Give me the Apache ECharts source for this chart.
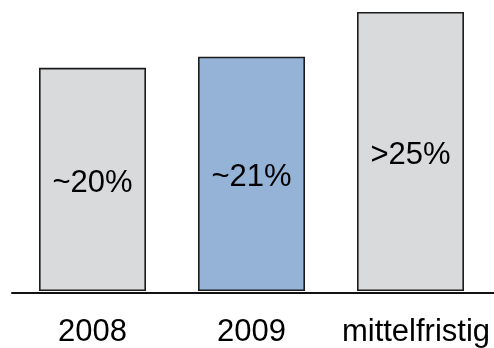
<!DOCTYPE html>
<html>
<head>
<meta charset="utf-8">
<script src="https://cdn.jsdelivr.net/npm/echarts@6/dist/echarts.min.js"></script>
<style>
  html, body { margin: 0; padding: 0; background: #fff; }
  #chart { width: 494px; height: 348px; }
</style>
</head>
<body>
<div id="chart"></div>
<script>
// Share per period
const categories = ['2008', '2009', 'mittelfristig'];
const values = [20, 21, 25];
const valueLabels = ['~20%', '~21%', '>25%'];
const barColors = ['#d9dadc', '#95b3d7', '#d9dadc'];

const FONT = '"Liberation Sans", Arial, sans-serif';

const chart = echarts.init(document.getElementById('chart'), null, { renderer: 'canvas' });

chart.setOption({
  animation: false,
  backgroundColor: '#ffffff',
  grid: [
    { left: 13, width: 477, top: 12, bottom: 55 },
    { left: 12, right: 0, top: 12, bottom: 55 }
  ],
  xAxis: [
    {
      type: 'category',
      gridIndex: 0,
      data: categories.map((c, i) => i === 2
        ? { value: c, textStyle: { padding: [0, 0, 0, 11] } }
        : c),
      axisLine: { show: false },
      axisTick: { show: false },
      axisLabel: {
        fontSize: 31,
        fontFamily: FONT,
        color: '#000',
        margin: 26,
        interval: 0
      }
    },
    {
      // baseline running the full width
      type: 'category',
      gridIndex: 1,
      data: categories,
      axisLine: { show: true, lineStyle: { color: '#111', width: 2 } },
      axisTick: { show: false },
      axisLabel: { show: false }
    }
  ],
  yAxis: [
    { type: 'value', gridIndex: 0, min: 0, max: 25, show: false },
    { type: 'value', gridIndex: 1, min: 0, max: 25, show: false }
  ],
  series: [
    {
      type: 'bar',
      xAxisIndex: 0,
      yAxisIndex: 0,
      barWidth: 107,
      data: values.map((v, i) => ({
        value: v,
        itemStyle: { color: barColors[i] }
      })),
      itemStyle: { borderColor: '#1c1c1c', borderWidth: 1.6 },
      label: {
        show: true,
        position: 'inside',
        offset: [0, 4],
        fontSize: 31,
        fontFamily: FONT,
        color: '#000',
        formatter: p => valueLabels[p.dataIndex]
      }
    }
  ]
});
</script>
</body>
</html>
